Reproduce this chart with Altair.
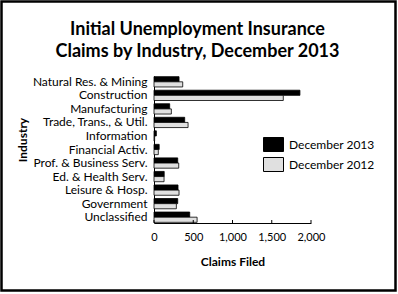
import altair as alt
import pandas as pd

categories = ["Natural Res. & Mining", "Construction", "Manufacturing",
              "Trade, Trans., & Util.", "Information", "Financial Activ.",
              "Prof. & Business Serv.", "Ed. & Health Serv.", "Leisure & Hosp.",
              "Government", "Unclassified"]
dec2013 = [319, 1859, 200, 391, 30, 66, 302, 130, 306, 302, 455]
dec2012 = [366, 1647, 221, 434, 8, 55, 315, 128, 319, 285, 549]
series = ["December 2013", "December 2012"]
x_ticks = [0, 500, 1000, 1500, 2000]

rows = []
for c, a, b in zip(categories, dec2013, dec2012):
    rows.append({"Industry": c, "Series": series[0], "Claims": a})
    rows.append({"Industry": c, "Series": series[1], "Claims": b})
df = pd.DataFrame(rows)

FONT = "Lato"
W, H = 157, 147
L, T = 154, 76
CW, CH = 398, 294

x_axis = alt.Axis(values=x_ticks, format=",.0f", ticks=False, grid=False,
                  labelOverlap=False, labelFlush=False,
                  title="Claims Filed", titleFontSize=12, titleFontWeight="bold",
                  titlePadding=14, labelPadding=8, labelFontSize=11,
                  domainColor="black", labelColor="black", titleColor="black")
x_scale = alt.Scale(domain=[0, 2000])

bars = alt.Chart(df).mark_bar(stroke="black", strokeWidth=0.8).encode(
    x=alt.X("Claims:Q", scale=x_scale, axis=x_axis),
    y=alt.Y("Industry:N", sort=categories,
            scale=alt.Scale(paddingInner=0.24, paddingOuter=0.05),
            axis=alt.Axis(ticks=False, labelPadding=7, labelFontSize=12,
                          title="Industry", titleFontSize=12, titleFontWeight="bold",
                          titleX=-125, titleY=H / 2 - 10, titleAngle=270,
                          domainColor="black", labelColor="black", titleColor="black")),
    yOffset=alt.YOffset("Series:N", sort=series),
    color=alt.Color("Series:N", sort=series,
                    scale=alt.Scale(domain=series, range=["#000000", "#e0e0e0"]),
                    legend=alt.Legend(title=None, orient="none", legendX=109, legendY=58,
                                      symbolType="M-1,-0.7H1V0.7H-1Z", symbolSize=400,
                                      symbolStrokeColor="black", symbolStrokeWidth=1,
                                      symbolOpacity=1,
                                      labelFontSize=12, labelOffset=5, rowPadding=-1,
                                      padding=0, labelColor="black")),
)

tick_df = pd.DataFrame({"t": x_ticks})
ticks = alt.Chart(tick_df).mark_rule(color="black", strokeWidth=1).encode(
    x=alt.X("t:Q", scale=x_scale, axis=x_axis), y=alt.value(H - 3), y2=alt.value(H)
)

border_df = pd.DataFrame({"a": [0]})
border = alt.Chart(border_df).mark_rect(fill=None, stroke="black", strokeWidth=2.5).encode(
    x=alt.value(-L + 1.5), x2=alt.value(CW - L - 2.5),
    y=alt.value(-T + 1.5), y2=alt.value(CH - T - 3.5)
)

chart = alt.layer(border, bars, ticks).properties(
    width=W, height=H,
    autosize=alt.AutoSizeParams(type="none"),
    padding={"left": L, "top": T, "right": CW - L - W, "bottom": CH - T - H},
    title=alt.TitleParams(["Initial Unemployment Insurance", "Claims by Industry, December 2013"],
                          fontSize=18, fontWeight="bold", lineHeight=22, anchor="middle",
                          frame="group", dx=-35, offset=-61, color="black", font=FONT),
    background="white",
).configure(font=FONT).configure_view(stroke=None)

chart.save("out.html", embed_options={"renderer": "svg", "actions": False})
